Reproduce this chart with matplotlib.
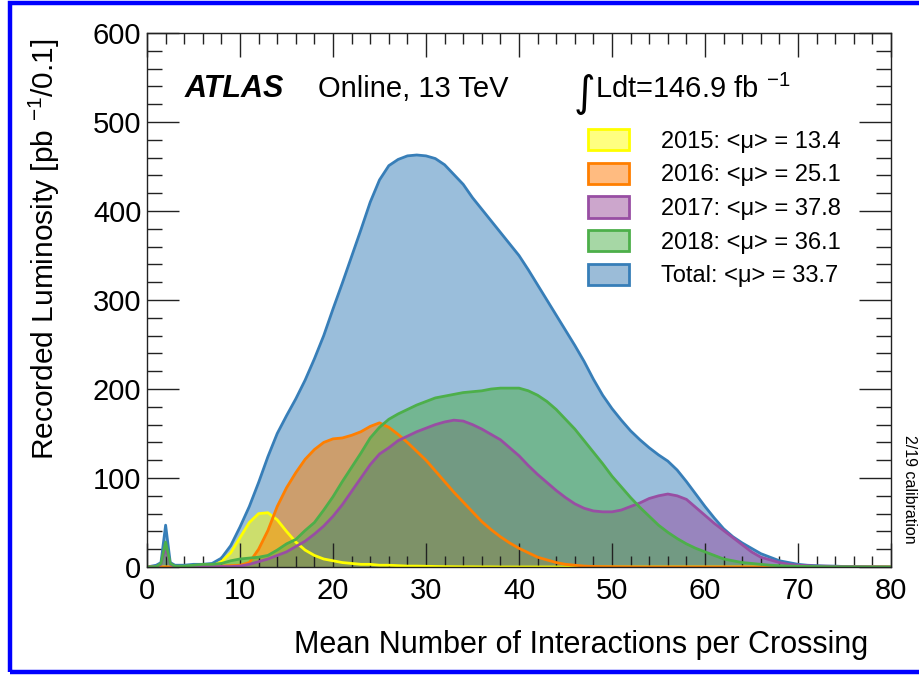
import matplotlib.pyplot as plt
from matplotlib.patches import Patch, Rectangle

plt.rcParams["font.family"] = ["Liberation Sans", "DejaVu Sans"]
plt.rcParams["mathtext.fontset"] = "custom"
plt.rcParams["mathtext.rm"] = "Liberation Sans"
plt.rcParams["mathtext.it"] = "Liberation Sans:italic"

# mean number of interactions per crossing (sample points)
mu = [0, 1, 1.5, 2, 2.5] + list(range(3, 81))

lumi_2015 = [0, 0, 0, 0, 0, 0, 0, 0, 0, 1, 6, 16, 33, 50, 60, 61, 53, 40, 28, 19,
             13, 9, 7, 5, 4, 3, 3, 2, 2, 1.5, 1, 1, 0.8, 0.6, 0.4, 0.3, 0.2, 0.2,
             0.1, 0.1, 0, 0, 0, 0, 0, 0, 0, 0, 0, 0, 0, 0, 0, 0, 0, 0, 0, 0, 0, 0,
             0, 0, 0, 0, 0, 0, 0, 0, 0, 0, 0, 0, 0, 0, 0, 0, 0, 0, 0, 0, 0, 0, 0]
lumi_2016 = [0, 0, 0, 0, 0, 0, 0, 0, 0.5, 0.5, 1, 1.5, 2, 5, 20, 41, 68, 89, 106,
             121, 132, 140, 144, 145, 148, 152, 158, 162, 157, 149, 140, 130, 120,
             108, 96, 84, 73, 62, 51, 42, 34, 27, 21, 16, 11, 8, 5, 3, 2, 1, 0.6,
             0.4, 0.3, 0.2, 0.1, 0, 0, 0, 0, 0, 0, 0, 0, 0, 0, 0, 0, 0, 0, 0, 0, 0,
             0, 0, 0, 0, 0, 0, 0, 0, 0, 0, 0]
lumi_2017 = [0, 0.5, 3, 21, 3, 0.5, 0.5, 0.5, 0.5, 0.5, 0.5, 0.5, 1, 3, 6, 9, 13,
             17, 23, 29, 37, 46, 57, 70, 85, 100, 115, 127, 134, 142, 147, 152, 156,
             160, 163, 165, 164, 160, 155, 149, 143, 134, 125, 114, 104, 95, 86, 78,
             71, 66, 63, 62, 62, 64, 68, 72, 77, 80, 82, 80, 76, 67, 58, 49, 41, 33,
             25, 17, 11, 8, 5, 3, 2, 1.5, 1, 1, 0.6, 0.5, 0.4, 0.3, 0.2, 0.1, 0]
lumi_2018 = [0, 0.5, 4, 28, 4, 1, 1, 2, 3, 3, 4, 7, 9, 10, 11, 13, 19, 26, 31, 41,
             50, 64, 79, 96, 112, 128, 145, 157, 166, 172, 177, 182, 186, 190, 192,
             194, 196, 197, 198, 200, 201, 201, 201, 198, 193, 186, 177, 166, 155,
             142, 129, 116, 102, 90, 78, 67, 57, 47, 39, 32, 26, 21, 17, 13, 9, 7,
             5, 4, 3, 2, 1.5, 1, 0.8, 0.6, 0.5, 0.3, 0.2, 0.2, 0.1, 0.1, 0, 0, 0]
lumi_total = [0, 2, 5, 47, 5, 2, 2, 3, 3, 4, 10, 24, 45, 68, 95, 124, 150, 170,
              189, 210, 234, 260, 290, 319, 349, 379, 410, 435, 451, 458, 462, 463,
              462, 459, 452, 441, 430, 415, 402, 389, 376, 363, 350, 334, 317, 300,
              283, 266, 249, 231, 211, 193, 178, 165, 153, 143, 134, 126, 119, 109,
              96, 82, 68, 55, 43, 34, 27, 21, 15, 11, 7, 5, 3, 2, 1.5, 1, 1, 0.5,
              0.3, 0.2, 0.1, 0.1, 0]

labels = ["2015: <\u03bc> = 13.4", "2016: <\u03bc> = 25.1", "2017: <\u03bc> = 37.8",
          "2018: <\u03bc> = 36.1", "Total: <\u03bc> = 33.7"]
colors = ["#ffff00", "#ff7f00", "#984ea3", "#4daf4a", "#377eb8"]
fill_cols = ["#ffff80", "#ffbb80", "#cca6cc", "#a6d7a5", "#9bbcd8"]
series = [lumi_2015, lumi_2016, lumi_2017, lumi_2018, lumi_total]

fig = plt.figure(figsize=(9.2, 6.75), dpi=100)
ax = fig.add_axes([0.1598, 0.16, 0.8087, 0.791])

# total at the back, then the years in order
draw_order = [4, 0, 1, 2, 3]
for k in draw_order:
    ax.fill_between(mu, series[k], color=colors[k], alpha=0.5, lw=0)
for k in draw_order:
    ax.plot(mu, series[k], color=colors[k], lw=2.0)

ax.set_xlim(0, 80)
ax.set_ylim(0, 600)
ax.set_xticks(range(0, 81, 10))
ax.set_xticks(range(0, 81, 2), minor=True)
ax.set_yticks(range(0, 601, 100))
ax.set_yticks(range(0, 601, 20), minor=True)
ax.tick_params(axis="both", which="both", direction="in", top=True, right=True,
               labelsize=21, width=1.0, color="#222222")
ax.tick_params(axis="x", which="major", length=17, pad=7)
ax.tick_params(axis="x", which="minor", length=8)
ax.tick_params(axis="y", which="major", length=23, pad=4)
ax.tick_params(axis="y", which="minor", length=11)
for spine in ax.spines.values():
    spine.set_linewidth(1.0)
    spine.set_color("#222222")

ax.set_xlabel("Mean Number of Interactions per Crossing", fontsize=22,
              x=0.969, ha="right", labelpad=18)
ax.set_ylabel("Recorded Luminosity [pb $^{-1}$/0.1]", fontsize=21.5,
              y=0.99, ha="right", labelpad=22)

ax.text(0.051, 0.895, "ATLAS", transform=ax.transAxes, fontsize=22,
        fontweight="bold", fontstyle="italic", va="center")
ax.text(0.230, 0.895, "Online, 13 TeV", transform=ax.transAxes, fontsize=21,
        va="center")
ax.text(0.573, 0.885, "\u222b", transform=ax.transAxes, fontsize=30,
        va="center", family="DejaVu Sans")
ax.text(0.602, 0.895, "Ldt=146.9 fb $^{-1}$", transform=ax.transAxes,
        fontsize=21, va="center")

handles = [Patch(facecolor=f, edgecolor=c, lw=2)
           for f, c in zip(fill_cols, colors)]
ax.legend(handles, labels, loc="upper left", bbox_to_anchor=(0.577, 0.842),
          frameon=False, fontsize=17, handlelength=1.75, handleheight=1.0,
          handletextpad=1.35, labelspacing=0.42, borderpad=0)

fig.text(0.989, 1 - 435 / 675, "2/19 calibration", rotation=-90, fontsize=11.5,
         ha="center", va="top")

fig.patches.append(Rectangle((10 / 920, 3 / 675), 1.0, 669 / 675,
                             transform=fig.transFigure, fill=False,
                             edgecolor="#0000ff", lw=3.2, clip_on=True))

fig.savefig("out.png", dpi=100)
